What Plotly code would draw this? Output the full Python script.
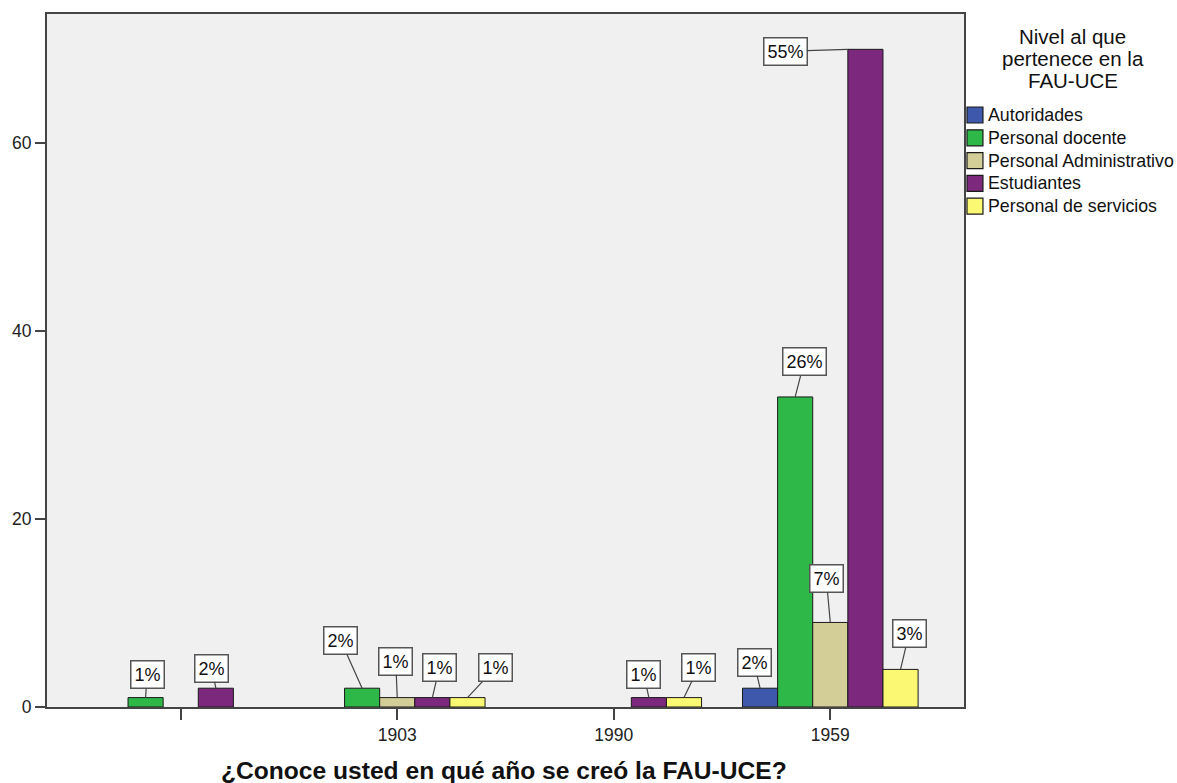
import plotly.graph_objects as go

# Survey answers: year the FAU-UCE was founded, split by membership level (counts)
categories = ["", "1903", "1990", "1959"]
series_names = ["Autoridades", "Personal docente", "Personal Administrativo",
                "Estudiantes", "Personal de servicios"]
autoridades = [0, 0, 0, 2]
personal_docente = [1, 2, 0, 33]
personal_administrativo = [0, 1, 0, 9]
estudiantes = [2, 1, 1, 70]
personal_servicios = [0, 1, 1, 4]
y_ticks = [0, 20, 40, 60]

series_values = [autoridades, personal_docente, personal_administrativo,
                 estudiantes, personal_servicios]
colors = ["#3E58AC", "#2EB848", "#D3CE97", "#7C287D", "#FBF873"]

FONT = "Liberation Sans, Arial, sans-serif"
W, H = 1177, 783
L, R, T, B = 45, 213, 14, 76
BARGAP = 0.189
n_series = len(series_names)
bar_w = (1 - BARGAP) / n_series


def px_x(px):
    return (px - L) / (W - L - R)


def px_y(py):
    return (H - B - py) / (H - T - B)


fig = go.Figure()
x_idx = list(range(len(categories)))
for name, vals, col in zip(series_names, series_values, colors):
    # empty cells keep their slot in the group but draw nothing
    fig.add_bar(x=x_idx, y=[v if v else None for v in vals], name=name,
                marker_color=col, marker_line_color="#1a1a1a",
                marker_line_width=1, showlegend=False)

# Percentage call-outs (share of all respondents), placed with pixel offsets
total = sum(sum(v) for v in series_values)
label_offsets = {
    (1, 0): (1.5, -23), (3, 0): (-4, -20),
    (1, 1): (-21.5, -48), (2, 1): (-1.5, -36.5), (3, 1): (7, -30), (4, 1): (28, -30),
    (3, 2): (-5, -23), (4, 2): (14.5, -30),
    (0, 3): (-6, -26), (1, 3): (9, -35), (2, 3): (-4, -44), (3, 3): (-62.5, 2),
    (4, 3): (8.5, -36),
}
side_anchor = {(3, 3)}  # leader line meets the bar's upper-left corner

for s, vals in enumerate(series_values):
    for c, v in enumerate(vals):
        if v == 0:
            continue
        ax, ay = label_offsets[(s, c)]
        xc = c + (s - (n_series - 1) / 2) * bar_w
        if (s, c) in side_anchor:
            xc -= bar_w / 2
        fig.add_annotation(
            x=xc, y=v, xref="x", yref="y",
            text=f"{round(100 * v / total)}%",
            showarrow=True, arrowhead=0, arrowwidth=1.2, arrowcolor="#444",
            standoff=0, startstandoff=0, ax=ax, ay=ay,
            bgcolor="white", bordercolor="#555", borderwidth=1.5, borderpad=3,
            font=dict(family=FONT, size=18, color="#111"),
        )

# Legend block on the right
title_lines = ["Nivel al que", "pertenece en la", "FAU-UCE"]
for i, line in enumerate(title_lines):
    fig.add_annotation(
        x=px_x(1073), y=px_y(36 + 22 * i), xref="paper", yref="paper",
        text=line, showarrow=False, xanchor="center", yanchor="middle",
        font=dict(family=FONT, size=20.5, color="#111"),
    )
for i, (name, col) in enumerate(zip(series_names, colors)):
    yc = 115 + 22.8 * i
    fig.add_shape(type="rect", xref="paper", yref="paper",
                  x0=px_x(967), x1=px_x(983), y0=px_y(yc + 8), y1=px_y(yc - 8),
                  fillcolor=col, line=dict(color="#1a1a1a", width=1.2))
    fig.add_annotation(
        x=px_x(986), y=px_y(yc), xref="paper", yref="paper",
        text=name, showarrow=False, xanchor="left", yanchor="middle",
        font=dict(family=FONT, size=17.8, color="#111"),
    )

# Axis title
fig.add_annotation(
    x=px_x(502.5), y=px_y(770), xref="paper", yref="paper",
    text="<b>¿Conoce usted en qué año se creó la FAU-UCE?</b>",
    showarrow=False, xanchor="center", yanchor="middle",
    font=dict(family=FONT, size=24.6, color="#111"),
)

axis_common = dict(
    showline=True, linecolor="#444", linewidth=2, mirror=True,
    ticks="outside", tickcolor="#444", tickwidth=1.5,
    showgrid=False, zeroline=False,
    tickfont=dict(family=FONT, size=17.5, color="#222"),
)

fig.update_layout(
    width=W, height=H,
    margin=dict(l=L, r=R, t=T, b=B),
    paper_bgcolor="white", plot_bgcolor="#F0F0F0",
    barmode="group", bargap=BARGAP, bargroupgap=0,
    xaxis=dict(range=[-0.6175, 3.6175], tickvals=x_idx, ticktext=categories,
               ticklen=11, **axis_common),
    yaxis=dict(range=[0, 73.76], tickvals=y_ticks, ticklen=10, **axis_common),
)

fig.write_html("out.html")
